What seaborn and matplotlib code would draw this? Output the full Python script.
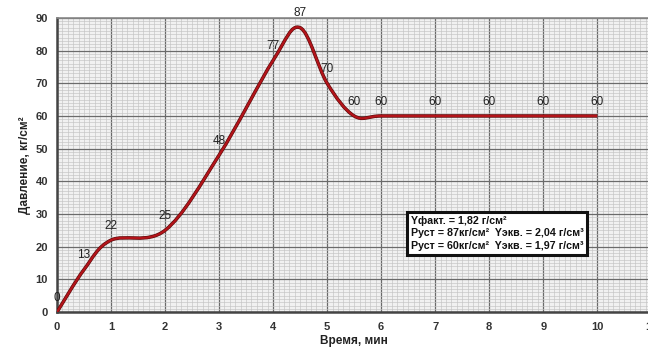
import matplotlib
matplotlib.use("Agg")
import matplotlib.pyplot as plt
import seaborn as sns
import numpy as np
from matplotlib.path import Path
from matplotlib.patches import PathPatch
from matplotlib.ticker import MultipleLocator
import matplotlib.patheffects as pe

# данные
time_min = [0, 0.5, 1, 2, 3, 4, 4.5, 5, 5.5, 6, 7, 8, 9, 10]
pressure = [0, 13, 22, 25, 48, 77, 87, 70, 60, 60, 60, 60, 60, 60]
x_ticks = list(range(0, 12))
y_ticks = list(range(0, 100, 10))
info_lines = [
    "Yфакт. = 1,82 г/см²",
    "Руст = 87кг/см²  Yэкв. = 2,04 г/см³",
    "Руст = 60кг/см²  Yэкв. = 1,97 г/см³",
]

sns.set_style("white")
plt.rcParams['font.family'] = ['Liberation Sans', 'DejaVu Sans']


def smooth_path(xs, ys):
    # сглаженная линия как в Excel (Catmull-Rom -> Bezier)
    p = np.column_stack([xs, ys]).astype(float)
    n = len(p)
    verts = [p[0]]
    codes = [Path.MOVETO]
    for i in range(n - 1):
        p0 = p[i - 1] if i > 0 else p[i]
        p1 = p[i]
        p2 = p[i + 1]
        p3 = p[i + 2] if i + 2 < n else p[i + 1]
        c1 = p1 + (p2 - p0) / 6
        c2 = p2 - (p3 - p1) / 6
        verts += [c1, c2, p2]
        codes += [Path.CURVE4] * 3
    return Path(verts, codes)


fig = plt.figure(figsize=(6.48, 3.51), dpi=100)
ax = fig.add_axes([0.088, 0.111, 0.917, 0.838])
ax.set_facecolor('#f1f1f1')

# сетка миллиметровки
ax.xaxis.set_major_locator(MultipleLocator(1))
ax.xaxis.set_minor_locator(MultipleLocator(0.1))
ax.yaxis.set_major_locator(MultipleLocator(10))
ax.yaxis.set_minor_locator(MultipleLocator(1))
ax.grid(which='major', color='#6a6a6a', lw=0.9)
ax.grid(which='minor', color='#c4c4c4', lw=0.45)
ax.set_axisbelow(True)

curve = PathPatch(smooth_path(time_min, pressure), fill=False, edgecolor='#b3141a',
                  lw=1.6, zorder=4,
                  path_effects=[pe.Stroke(linewidth=2.5, foreground='#5a0b0b'), pe.Normal()])
ax.add_patch(curve)

for xv, yv in zip(time_min, pressure):
    ax.annotate(str(yv), (xv, yv), xytext=(0, 6), textcoords='offset points',
                ha='center', va='bottom', fontsize=8.5, color='#222222', zorder=5,
                annotation_clip=False)

ax.set_xlim(0, 11)
ax.set_ylim(0, 90)
ax.set_xticks(x_ticks)
ax.set_yticks(y_ticks)
ax.tick_params(axis='both', which='major', labelsize=8, colors='#333333',
               length=3, width=1, direction='out')
ax.tick_params(axis='x', which='major', length=0, pad=7)
ax.tick_params(which='minor', length=0)
for lbl in ax.get_xticklabels() + ax.get_yticklabels():
    lbl.set_fontweight('bold')

for side in ['left', 'bottom']:
    ax.spines[side].set_color('#444444')
    ax.spines[side].set_linewidth(1.8)
ax.spines['top'].set_color('#888888')
ax.spines['top'].set_linewidth(1.2)
ax.spines['right'].set_visible(False)

ax.set_xlabel('Время, мин', fontsize=8.5, fontweight='bold', color='#222222', labelpad=2)
ax.set_ylabel('Давление, кг/см²', fontsize=8.5, fontweight='bold', color='#222222', labelpad=3)

ax.text(6.55, 29.5, "\n".join(info_lines), fontsize=7.7, fontweight='bold',
        va='top', ha='left', color='#111111', linespacing=1.35, zorder=6,
        bbox=dict(boxstyle='square,pad=0.35', fc='white', ec='#111111', lw=2.2))

fig.savefig('out.png', dpi=100)
